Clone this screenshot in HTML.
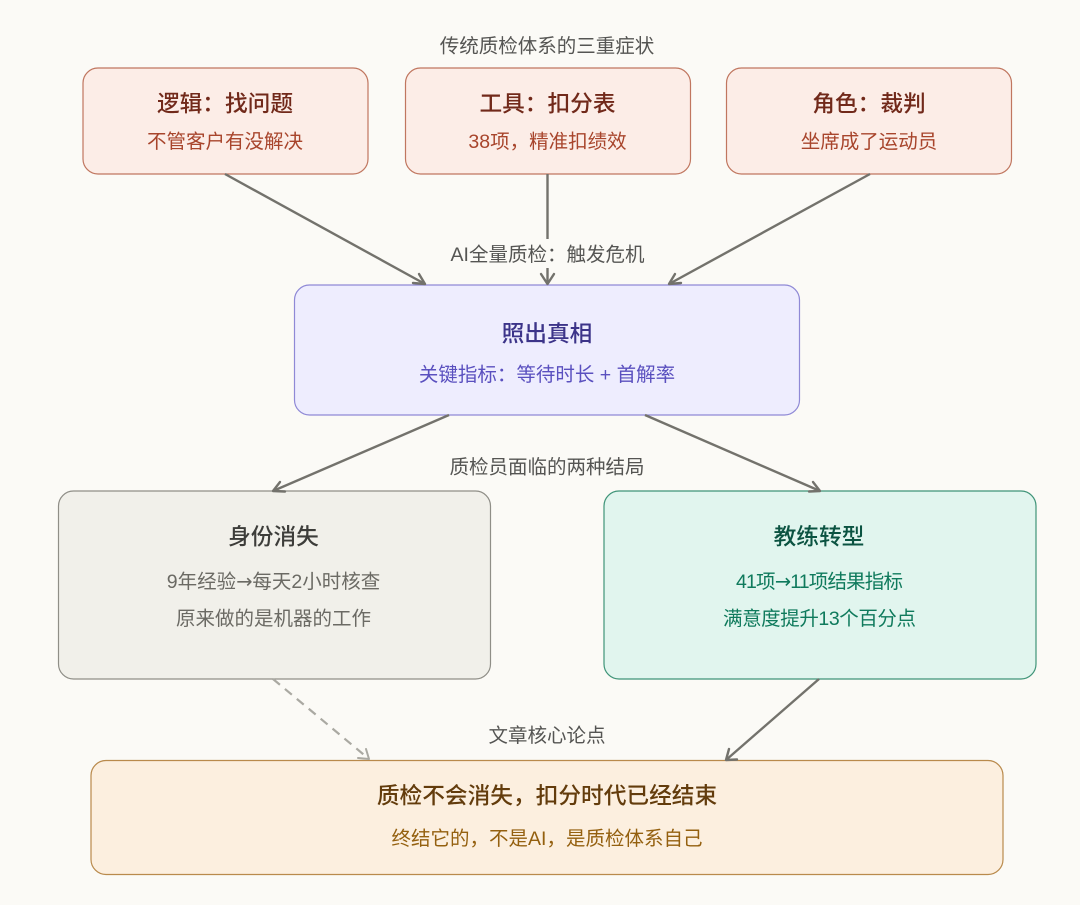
<!DOCTYPE html>
<html lang="zh">
<head>
<meta charset="utf-8">
<style>
html,body{margin:0;padding:0;background:#fbfaf6;}
svg{display:block;filter:blur(0.35px);}
text{font-family:"Liberation Sans","Noto Sans CJK SC",sans-serif;text-anchor:middle;}
.t{font-size:22.7px;font-weight:500;}
.s{font-size:19.5px;}
.l{font-size:19.5px;fill:#555553;}
.e{stroke:#73726c;stroke-width:2.4;fill:none;}
.a{stroke:#73726c;stroke-width:2.4;fill:none;stroke-linecap:round;stroke-linejoin:round;}
.ar{font-family:"DejaVu Sans",sans-serif;}
</style>
</head>
<body>
<svg width="1080" height="905" viewBox="0 0 1080 905" xmlns="http://www.w3.org/2000/svg">
<rect width="1080" height="905" fill="#fbfaf6"/>

<rect x="83" y="68" width="285" height="106" rx="15" fill="#fcede7" stroke="#c0765f" stroke-width="1.2"/>
<rect x="405.500" y="68" width="285" height="106" rx="15" fill="#fcede7" stroke="#c0765f" stroke-width="1.2"/>
<rect x="726.500" y="68" width="285" height="106" rx="15" fill="#fcede7" stroke="#c0765f" stroke-width="1.2"/>
<rect x="294.500" y="285" width="505" height="130" rx="15" fill="#eeedfe" stroke="#8f89d6" stroke-width="1.2"/>
<rect x="58.500" y="491" width="432" height="188" rx="15" fill="#f1f0ea" stroke="#8f8e87" stroke-width="1.2"/>
<rect x="604" y="491" width="432" height="188" rx="15" fill="#e1f5ee" stroke="#3f9478" stroke-width="1.2"/>
<rect x="91" y="760.500" width="912" height="114" rx="15" fill="#fcefdf" stroke="#b98a4c" stroke-width="1.2"/>

<line class="e" x1="225" y1="174" x2="425" y2="284"/>
<path class="a" d="M413 283L425 284L419 274"/>
<line class="e" x1="547.500" y1="174" x2="547.500" y2="239"/>
<line class="e" x1="547.500" y1="268" x2="547.500" y2="284"/>
<path class="a" d="M541 274L547.500 284L554 274"/>
<line class="e" x1="870" y1="174" x2="669" y2="284"/>
<path class="a" d="M675 274L669 284L681 283"/>
<line class="e" x1="449" y1="415" x2="273" y2="491"/>
<path class="a" d="M280 482L273 491L285 491.500"/>
<line class="e" x1="645" y1="415" x2="820" y2="491"/>
<path class="a" d="M809 491.500L820 491L813 482"/>
<line x1="273" y1="679" x2="369" y2="759" stroke="#aaa9a2" stroke-width="2.2" stroke-dasharray="9 6.500"/>
<path d="M358 758L369 759L366 749" fill="none" stroke="#aaa9a2" stroke-width="2" stroke-linecap="round" stroke-linejoin="round"/>
<line class="e" x1="819" y1="679" x2="726" y2="760"/>
<path class="a" d="M729 749L726 760L737 759.500"/>

<text class="l" x="547" y="52.500">传统质检体系的三重症状</text>
<text class="l" x="547.500" y="261">AI全量质检：触发危机</text>
<text class="l" x="547" y="473.500">质检员面临的两种结局</text>
<text class="l" x="547" y="742">文章核心论点</text>

<text class="t" x="225" y="111.700" fill="#71291a">逻辑：找问题</text>
<text class="s" x="225" y="148" fill="#a8452c">不管客户有没解决</text>
<text class="t" x="547.500" y="111.700" fill="#71291a">工具：扣分表</text>
<text class="s" x="547.500" y="148" fill="#a8452c">38项，精准扣绩效</text>
<text class="t" x="869" y="111.700" fill="#71291a">角色：裁判</text>
<text class="s" x="869" y="148" fill="#a8452c">坐席成了运动员</text>

<text class="t" x="547" y="341.700" fill="#3c3489">照出真相</text>
<text class="s" x="547" y="381" fill="#5a50bf">关键指标：等待时长 + 首解率</text>

<text class="t" x="273.500" y="544.700" fill="#3d3d3a">身份消失</text>
<text class="s" x="273.500" y="588" fill="#6b6a64">9年经验<tspan class="ar">→</tspan>每天2小时核查</text>
<text class="s" x="273.500" y="625" fill="#6b6a64">原来做的是机器的工作</text>

<text class="t" x="819" y="544.700" fill="#0b5341">教练转型</text>
<text class="s" x="819.500" y="588" fill="#0f7a5c" textLength="167" lengthAdjust="spacing">41项<tspan class="ar">→</tspan>11项结果指标</text>
<text class="s" x="819.500" y="625" fill="#0f7a5c" textLength="193" lengthAdjust="spacing">满意度提升13个百分点</text>

<text class="t" x="547" y="803.700" fill="#633c0c">质检不会消失，扣分时代已经结束</text>
<text class="s" x="547" y="845" fill="#94600f">终结它的，不是AI，是质检体系自己</text>
</svg>
</body>
</html>
